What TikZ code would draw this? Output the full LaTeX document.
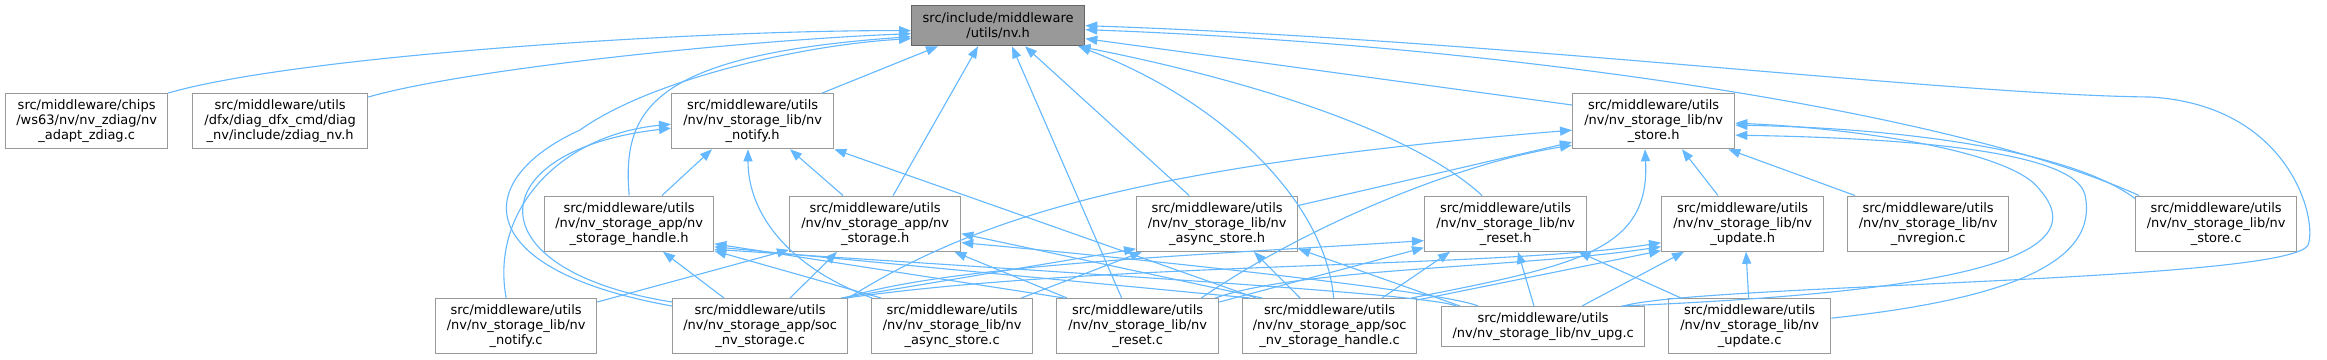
\documentclass[tikz,border=0pt]{standalone}
\usepackage{fontspec}
\setmainfont{DejaVu Sans}
\usetikzlibrary{calc,arrows.meta}
\definecolor{edgeblue}{HTML}{63B8FF}
\definecolor{nodegray}{HTML}{999999}
\definecolor{rootfill}{HTML}{999999}
\definecolor{rootdraw}{HTML}{666666}
\begin{document}
\begin{tikzpicture}[x=1pt,y=-1pt,
  nd/.style={draw=nodegray, fill=white, line width=1.3pt, inner sep=0pt, align=center,
    anchor=north west, minimum height=55, font=\fontsize{13}{15}\selectfont},
  rootnd/.style={nd, fill=rootfill, draw=rootdraw, minimum height=40},
  ed/.style={draw=edgeblue, line width=1.1pt, -{Triangle[length=12pt,width=9pt]}}]
\fill[white] (0,0) rectangle (2327,359);
\useasboundingbox (0,0) rectangle (2327,359);

% nodes
\node[rootnd, minimum width=173] (nvh) at (911,5) {src/include/middleware\\/utils/nv.h};
\node[nd, minimum width=162] (adapt) at (5,93) {src/middleware/chips\\/ws63/nv/nv\_zdiag/nv\\\_adapt\_zdiag.c};
\node[nd, minimum width=175] (zdiag) at (192,93) {src/middleware/utils\\/dfx/diag\_dfx\_cmd/diag\\\_nv/include/zdiag\_nv.h};
\node[nd, minimum width=162] (notifyh) at (671,93) {src/middleware/utils\\/nv/nv\_storage\_lib/nv\\\_notify.h};
\node[nd, minimum width=162] (storeh) at (1572,93) {src/middleware/utils\\/nv/nv\_storage\_lib/nv\\\_store.h};
\node[nd, minimum width=169] (handleh) at (544,195.5) {src/middleware/utils\\/nv/nv\_storage\_app/nv\\\_storage\_handle.h};
\node[nd, minimum width=171] (storageh) at (789,195.5) {src/middleware/utils\\/nv/nv\_storage\_app/nv\\\_storage.h};
\node[nd, minimum width=161] (asynch) at (1136,195.5) {src/middleware/utils\\/nv/nv\_storage\_lib/nv\\\_async\_store.h};
\node[nd, minimum width=162] (reseth) at (1424,195.5) {src/middleware/utils\\/nv/nv\_storage\_lib/nv\\\_reset.h};
\node[nd, minimum width=162] (updateh) at (1661,195.5) {src/middleware/utils\\/nv/nv\_storage\_lib/nv\\\_update.h};
\node[nd, minimum width=161] (nvregion) at (1847,195.5) {src/middleware/utils\\/nv/nv\_storage\_lib/nv\\\_nvregion.c};
\node[nd, minimum width=161] (storec) at (2135,195.5) {src/middleware/utils\\/nv/nv\_storage\_lib/nv\\\_store.c};
\node[nd, minimum width=161] (notifyc) at (435,298) {src/middleware/utils\\/nv/nv\_storage\_lib/nv\\\_notify.c};
\node[nd, minimum width=175] (socstorage) at (672,298) {src/middleware/utils\\/nv/nv\_storage\_app/soc\\\_nv\_storage.c};
\node[nd, minimum width=161] (asyncc) at (871,298) {src/middleware/utils\\/nv/nv\_storage\_lib/nv\\\_async\_store.c};
\node[nd, minimum width=162] (resetc) at (1056,298) {src/middleware/utils\\/nv/nv\_storage\_lib/nv\\\_reset.c};
\node[nd, minimum width=174] (sochandle) at (1242,298) {src/middleware/utils\\/nv/nv\_storage\_app/soc\\\_nv\_storage\_handle.c};
\node[nd, minimum width=203, minimum height=40] (upg) at (1441,306) {src/middleware/utils\\/nv/nv\_storage\_lib/nv\_upg.c};
\node[nd, minimum width=162] (updatec) at (1668,298) {src/middleware/utils\\/nv/nv\_storage\_lib/nv\\\_update.c};

% edges to nv.h
\draw[ed] (adapt.north east) .. controls (300,55) and (700,30) .. ($(nvh.west)+(0,5)$);
\draw[ed] ($(zdiag.north east)+(0,4)$) .. controls (470,68) and (750,40) .. ($(nvh.west)+(0,8)$);
\draw[ed] ($(notifyh.north east)+(-12,0)$) -- ($(nvh.south west)+(27,0)$);
\draw[ed] (handleh.north) .. controls (622,110) and (650,55) .. ($(nvh.west)+(0,11)$);
\draw[ed] ($(socstorage.north west)+(0,8)$) .. controls (470,270) and (470,180) .. (580,130)
  .. controls (650,80) and (800,45) .. ($(nvh.west)+(0,13)$);
\draw[ed] ($(storageh.north)+(18,0)$) -- ($(nvh.south west)+(67,0)$);
\draw[ed] ($(resetc.north)+(-16,0)$) -- ($(nvh.south west)+(101,0)$);
\draw[ed] ($(asynch.north)+(-28,0)$) -- ($(nvh.south west)+(114,0)$);
\draw[ed] ($(sochandle.north)+(4,0)$) .. controls (1325,200) and (1220,100) .. ($(nvh.south east)+(-7,0)$);
\draw[ed] ($(reseth.north west)+(58,0)$) .. controls (1400,120) and (1200,70) .. ($(nvh.south east)+(-7,0)$);
\draw[ed] ($(storeh.north west)+(0,12)$) -- ($(nvh.east)+(0,13)$);
\draw[ed] ($(storec.north west)+(4,0)$) .. controls (1950,110) and (1500,45) .. ($(nvh.east)+(0,4)$);
\draw[ed] ($(upg.north east)+(-22,0)$) .. controls (1700,284) and (2290,282) .. (2308,245)
  .. controls (2318,220) and (2290,105) .. (2150,97)
  .. controls (1950,95) and (1500,40) .. (nvh.east);

% edges to nv_notify.h
\draw[ed] ($(socstorage.north west)+(0,4)$) .. controls (470,270) and (480,150) .. ($(notifyh.west)+(0,7)$);
\draw[ed] ($(notifyc.north)+(-10,0)$) .. controls (490,210) and (560,135) .. ($(notifyh.west)+(0,3)$);
\draw[ed] ($(handleh.north west)+(118,0)$) -- ($(notifyh.south west)+(41,0)$);
\draw[ed] ($(storageh.north west)+(54,0)$) -- ($(notifyh.south west)+(119,0)$);
\draw[ed] ($(asyncc.north west)+(1,0)$) .. controls (790,268) and (748,215) .. ($(notifyh.south west)+(77,0)$);
\draw[ed] ($(sochandle.north west)+(14,0)$) -- (notifyh.south east);

% edges to nv_store.h
\draw[ed] (socstorage.north east) .. controls (980,215) and (1150,165) .. ($(storeh.west)+(0,9)$);
\draw[ed] ($(asynch.north east)+(0,10)$) -- ($(storeh.west)+(0,21)$);
\draw[ed] ($(resetc.north east)+(-18,0)$) .. controls (1300,230) and (1450,165) .. ($(storeh.west)+(0,24)$);
\draw[ed] ($(sochandle.north east)+(-6,0)$) .. controls (1580,265) and (1650,250) .. ($(storeh.south west)+(73,0)$);
\draw[ed] ($(updateh.north west)+(57,0)$) -- ($(storeh.south west)+(110,0)$);
\draw[ed] ($(nvregion.north west)+(8,0)$) -- ($(storeh.south east)+(-7,0)$);
\draw[ed] ($(storec.north west)+(0,3)$) .. controls (2070,150) and (1900,128) .. ($(storeh.east)+(0,4)$);
\draw[ed] ($(upg.north east)+(-24,0)$) .. controls (1880,295) and (2110,270) .. (2040,190)
  .. controls (2012,150) and (1850,128) .. ($(storeh.east)+(0,2)$);
\draw[ed] ($(updatec.east)+(0,-8)$) .. controls (2000,300) and (2100,265) .. (2085,195)
  .. controls (2075,150) and (1900,138) .. ($(storeh.east)+(0,14)$);

% edges to nv_storage_handle.h
\draw[ed] ($(socstorage.north west)+(52,0)$) -- ($(handleh.south west)+(119,0)$);
\draw[ed] ($(asyncc.north west)+(10,0)$) -- ($(handleh.south east)+(0,-1)$);
\draw[ed] ($(resetc.north west)+(8,0)$) -- ($(handleh.south east)+(0,-8)$);
\draw[ed] ($(sochandle.north west)+(8,0)$) -- ($(handleh.south east)+(0,-5)$);
\draw[ed] ($(upg.north west)+(15,0)$) .. controls (1430,294) and (1100,275) .. ($(handleh.south east)+(0,-2.5)$);

% edges to nv_storage.h
\draw[ed] ($(notifyc.north east)+(0,4)$) -- ($(storageh.south west)+(0,-2)$);
\draw[ed] ($(socstorage.north west)+(118,0)$) -- ($(storageh.south west)+(48,0)$);
\draw[ed] ($(resetc.north west)+(11,0)$) -- ($(storageh.south east)+(-7,0)$);
\draw[ed] ($(sochandle.north west)+(20,0)$) -- ($(storageh.east)+(0,10)$);
\draw[ed] ($(upg.north west)+(37,0)$) .. controls (1440,290) and (1100,255) .. ($(storageh.east)+(0,19)$);

% edges to nv_async_store.h
\draw[ed] ($(socstorage.north east)+(-7,0)$) -- ($(asynch.south west)+(0,-3)$);
\draw[ed] ($(asyncc.north east)+(-12,0)$) -- ($(asynch.south west)+(6,0)$);
\draw[ed] ($(sochandle.north west)+(58,0)$) -- ($(asynch.south west)+(118,0)$);
\draw[ed] ($(upg.north west)+(19,0)$) -- ($(asynch.south east)+(0,-3)$);

% edges to nv_reset.h
\draw[ed] ($(socstorage.north east)+(-4,0)$) .. controls (950,265) and (1200,255) .. ($(reseth.west)+(0,17)$);
\draw[ed] ($(resetc.north east)+(0,4)$) -- ($(reseth.west)+(0,24)$);
\draw[ed] ($(sochandle.north west)+(140,0)$) -- ($(reseth.south west)+(26,0)$);
\draw[ed] ($(upg.north west)+(93,0)$) -- ($(reseth.south west)+(94,0)$);
\draw[ed] ($(updatec.north west)+(13,0)$) -- ($(reseth.south east)+(-9,0)$);

% edges to nv_update.h
\draw[ed] ($(socstorage.north east)+(-2,0)$) .. controls (1100,262) and (1500,268) .. ($(updateh.west)+(0,19)$);
\draw[ed] ($(resetc.north east)+(-4,0)$) .. controls (1300,268) and (1520,268) .. ($(updateh.west)+(0,23)$);
\draw[ed] ($(sochandle.north east)+(0,2)$) -- ($(updateh.west)+(0,27)$);
\draw[ed] ($(upg.north west)+(141,0)$) -- ($(updateh.south west)+(23,0)$);
\draw[ed] ($(updatec.north)+(-1,0)$) -- ($(updateh.south west)+(85,0)$);
\end{tikzpicture}
\end{document}
